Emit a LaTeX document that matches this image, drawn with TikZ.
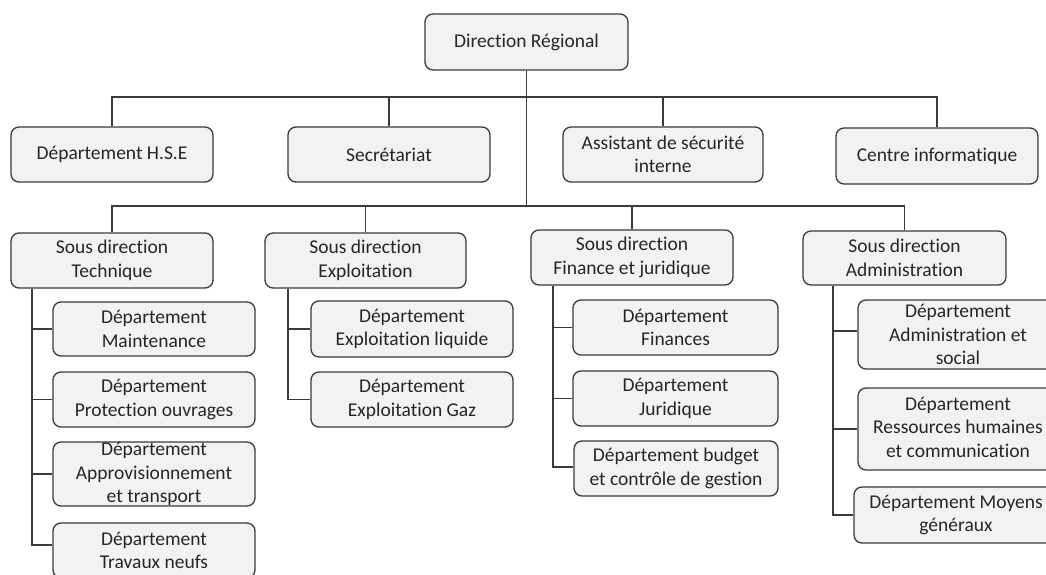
\documentclass[tikz,border=0pt]{standalone}
\usepackage{fontspec}
\setmainfont{Carlito}[Ligatures=NoCommon]
\definecolor{linegray}{HTML}{3A3A3A}
\definecolor{boxfill}{HTML}{F2F2F2}
\definecolor{textgray}{HTML}{262626}
\begin{document}
\begin{tikzpicture}[x=1pt,y=-1pt,
  unit/.style={draw=linegray, line width=1.3pt, fill=boxfill, rounded corners=8pt,
    inner sep=0pt, align=center, text=textgray,
    font=\fontsize{19.5}{23.5}\selectfont},
  link/.style={draw=linegray, line width=1.3pt}]
\clip (0,0) rectangle (1046,575);
\fill[white] (0,0) rectangle (1046,575);

% head of the organisation
\node[unit, minimum width=203pt, minimum height=56pt] (dr) at (526.5,42) {Direction Régional};

% staff units attached directly to the head
\node[unit, minimum width=202pt, minimum height=55pt] (hse) at (112,154.5) {Département H.S.E};
\node[unit, minimum width=202pt, minimum height=55pt] (sec) at (389,154.5) {Secrétariat};
\node[unit, minimum width=200pt, minimum height=55pt] (ass) at (663,154.5) {Assistant de sécurité\\interne};
\node[unit, minimum width=202pt, minimum height=56pt] (ci) at (937,156) {Centre informatique};

% sub-directorates
\node[unit, minimum width=202pt, minimum height=55pt] (sdt) at (112,260.5) {Sous direction\\Technique};
\node[unit, minimum width=201pt, minimum height=55pt] (sde) at (365.5,260.5) {Sous direction\\Exploitation};
\node[unit, minimum width=202pt, minimum height=55pt] (sdf) at (632,257.5) {Sous direction\\Finance et juridique};
\node[unit, minimum width=203pt, minimum height=54pt] (sda) at (904.5,258) {Sous direction\\Administration};

% departments: technique
\node[unit, minimum width=202pt, minimum height=54pt] (maint) at (154,329) {Département\\Maintenance};
\node[unit, minimum width=202pt, minimum height=55pt] (prot) at (154,399.5) {Département\\Protection ouvrages};
\node[unit, minimum width=202pt, minimum height=64pt] (appro) at (154,474) {Département\\Approvisionnement\\et transport};
\node[unit, minimum width=202pt, minimum height=55pt] (trav) at (154,550.5) {Département\\Travaux neufs};

% departments: exploitation
\node[unit, minimum width=202pt, minimum height=56pt] (liq) at (412,329) {Département\\Exploitation liquide};
\node[unit, minimum width=202pt, minimum height=55pt] (gaz) at (412,399.5) {Département\\Exploitation Gaz};

% departments: finance et juridique
\node[unit, minimum width=205pt, minimum height=55pt] (fin) at (675.5,327.5) {Département\\Finances};
\node[unit, minimum width=205pt, minimum height=55pt] (jur) at (675.5,398.5) {Département\\Juridique};
\node[unit, minimum width=204pt, minimum height=55pt] (bud) at (676,468.5) {Département budget\\et contrôle de gestion};

% departments: administration
\node[unit, minimum width=200pt, minimum height=69pt] (soc) at (958,334.5) {Département\\Administration et\\social};
\node[unit, minimum width=200pt, minimum height=82pt] (rh) at (958,429) {\raisebox{5pt}{\begin{tabular}{@{}c@{}}Département\\Ressources humaines\\et communication\end{tabular}}};
\node[unit, minimum width=204pt, minimum height=56pt] (moy) at (956,515) {Département Moyens\\généraux};

% buses
\coordinate (bus1) at (526.5,97);
\coordinate (bus2) at (526.5,206);
\draw[link] (dr.south) -- (bus2);
\draw[link] (hse.north) |- (bus1);
\draw[link] (sec.north) |- (bus1);
\draw[link] (ass.north) |- (bus1);
\draw[link] (ci.north) |- (bus1);
\draw[link] (sdt.north) |- (bus2);
\draw[link] (sde.north) |- (bus2);
\draw[link] (sdf.north) |- (bus2);
\draw[link] (sda.north) |- (bus2);

% spines of each sub-directorate
\coordinate (st) at ([xshift=-80pt]sdt.south);
\draw[link] (st) |- ([yshift=5.5pt]trav.west);
\foreach \d in {maint,prot,appro} \draw[link] (\d.west) -- (\d.west -| st);

\coordinate (se) at ([xshift=-77.5pt]sde.south);
\draw[link] (se) |- (gaz.west);
\draw[link] (liq.west) -- (liq.west -| se);

\coordinate (sf) at ([xshift=-79pt]sdf.south);
\draw[link] (sf) |- ([yshift=1.5pt]bud.west);
\foreach \d in {fin,jur} \draw[link] (\d.west) -- (\d.west -| sf);

\coordinate (sa) at ([xshift=-71.5pt]sda.south);
\draw[link] (sa) |- (moy.west);
\draw[link] ([yshift=3.5pt]soc.west) -- ([yshift=3.5pt]soc.west -| sa);
\draw[link] (rh.west) -- (rh.west -| sa);
\end{tikzpicture}
\end{document}
